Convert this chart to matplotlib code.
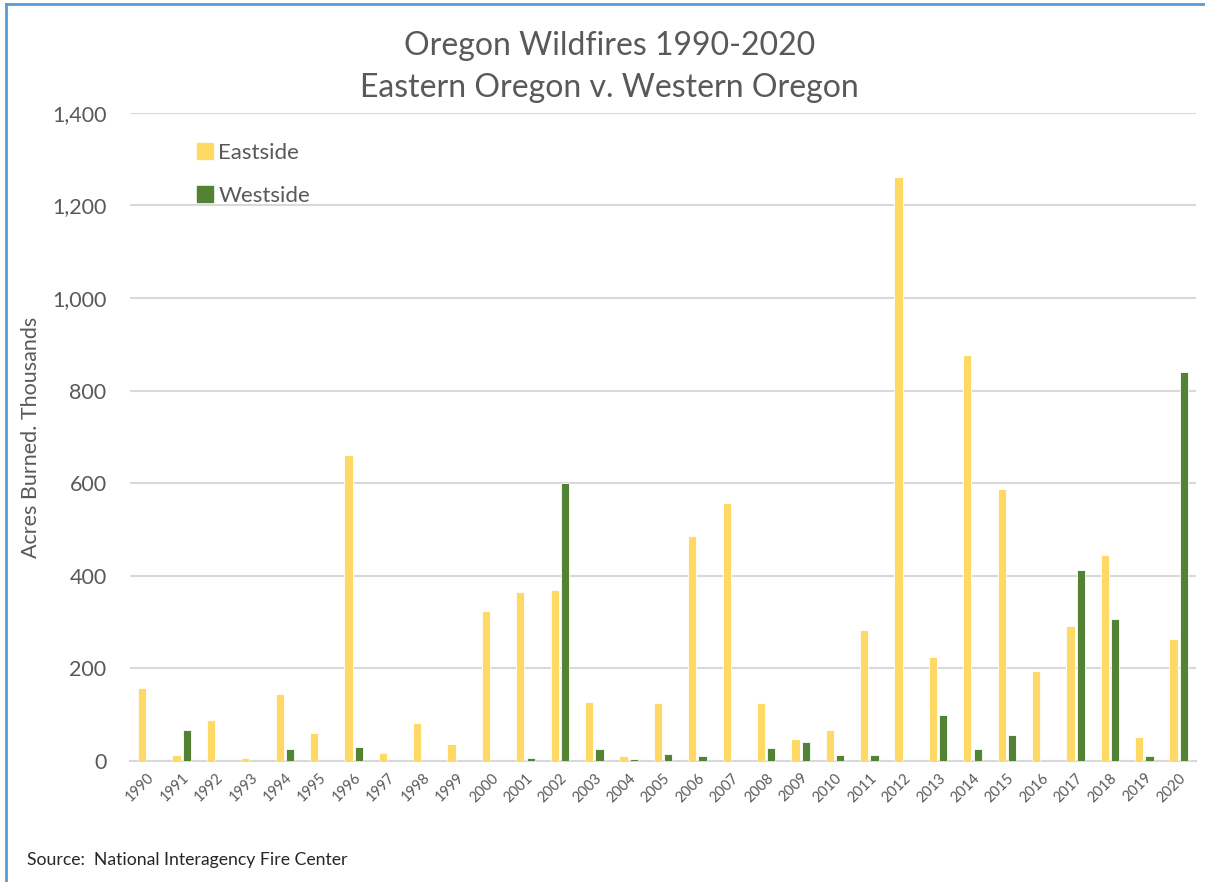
import matplotlib
matplotlib.use('Agg')
import matplotlib.pyplot as plt
from matplotlib.ticker import FuncFormatter, MultipleLocator
from matplotlib.lines import Line2D
import numpy as np

# acres burned, thousands
years = [str(y) for y in range(1990, 2021)]
eastside = [157, 13, 88, 6, 144, 60, 661, 17, 83, 37,
            324, 366, 369, 127, 11, 125, 485, 557, 125, 48,
            67, 284, 1261, 225, 876, 588, 194, 292, 444, 52, 263]
westside = [0, 67, 0, 0, 26, 0, 30, 0, 0, 0,
            0, 6, 600, 26, 4, 16, 10, 0, 28, 40,
            14, 14, 0, 99, 26, 56, 0, 413, 307, 11, 841]

yellow = '#FFD966'
green = '#548235'
grey = '#595959'

plt.rcParams['font.family'] = ['Lato', 'DejaVu Sans']

fig = plt.figure(figsize=(12.05, 8.82), dpi=100)
ax = fig.add_axes([0.108, 0.1372, 0.8845, 0.7348])

x = np.arange(len(years))
w = 0.24
ax.bar(x - 0.15, eastside, w, color=yellow, edgecolor='white', linewidth=0.6, label='Eastside', zorder=3)
ax.bar(x + 0.15, westside, w, color=green, edgecolor='white', linewidth=0.6, label='Westside', zorder=3)

ax.set_xlim(-0.5, len(years) - 0.5)
ax.set_ylim(0, 1400)
ax.yaxis.set_major_locator(MultipleLocator(200))
ax.yaxis.set_major_formatter(FuncFormatter(lambda v, p: f'{int(v):,}'))
ax.grid(axis='y', color='#D9D9D9', linewidth=1.5, zorder=0)
ax.set_axisbelow(True)
for s in ['top', 'right', 'left']:
    ax.spines[s].set_visible(False)
ax.spines['bottom'].set_color('#D9D9D9')
ax.spines['bottom'].set_linewidth(1.5)

ax.set_xticks(x)
ax.set_xticklabels(years, rotation=45, ha='right', rotation_mode='anchor', fontsize=10.5, color=grey)
ax.tick_params(axis='x', length=0, pad=7)
ax.tick_params(axis='y', length=0, pad=17, labelsize=15.5, labelcolor=grey)

ax.set_ylabel('Acres Burned. Thousands', fontsize=15.5, color=grey, labelpad=8)

handles = [Line2D([], [], marker='s', linestyle='none', markersize=11, color=yellow),
           Line2D([], [], marker='s', linestyle='none', markersize=11, color=green)]
ax.legend(handles, ['Eastside', 'Westside'], loc='upper left', bbox_to_anchor=(0.042, 0.985),
          frameon=False, fontsize=16, labelcolor=grey, labelspacing=1.05, handletextpad=0.15,
          handlelength=0.9)

fig.text(0.506, 0.948, 'Oregon Wildfires 1990-2020', ha='center', va='center', fontsize=23, color=grey)
fig.text(0.506, 0.900, 'Eastern Oregon v. Western Oregon', ha='center', va='center', fontsize=23, color=grey)
fig.text(0.022, 0.025, 'Source:  National Interagency Fire Center', ha='left', va='center', fontsize=12.7, color='#262626')

# blue frame on left and top edges
fig.add_artist(Line2D([0.005, 0.005], [0, 0.995], transform=fig.transFigure, color='#5B9BD5', linewidth=2))
fig.add_artist(Line2D([0.005, 1.0], [0.995, 0.995], transform=fig.transFigure, color='#5B9BD5', linewidth=2))

fig.savefig('out.png', dpi=100)
plt.close('all')
